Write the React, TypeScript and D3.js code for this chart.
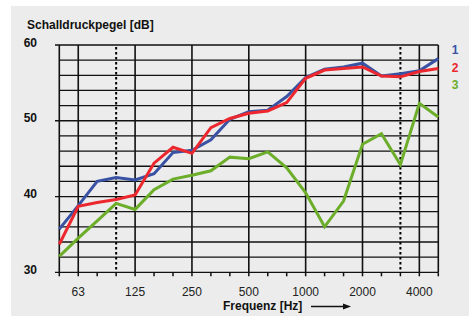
import React from 'react';
import * as d3 from 'd3';

// third-octave band centre frequencies (Hz)
const freqs = ['50', '63', '80', '100', '125', '160', '200', '250', '315', '400', '500',
  '630', '800', '1000', '1250', '1600', '2000', '2500', '3150', '4000', '5000'];
const octaveLabels = ['63', '125', '250', '500', '1000', '2000', '4000'];
const dottedFreqs = ['100', '3150'];
const yLabels = [30, 40, 50, 60];

const series1 = [35.7, 38.8, 42.0, 42.5, 42.2, 43.0, 45.8, 46.1, 47.5, 50.2, 51.2,
  51.4, 53.2, 55.7, 56.8, 57.1, 57.6, 55.9, 56.2, 56.6, 58.2];
const series2 = [33.7, 38.7, 39.2, 39.6, 40.2, 44.4, 46.5, 45.7, 49.1, 50.3, 51.0,
  51.3, 52.4, 55.6, 56.7, 56.9, 57.1, 55.9, 55.8, 56.5, 56.9];
const series3 = [32.1, 34.5, 36.8, 39.1, 38.3, 40.9, 42.3, 42.8, 43.4, 45.2, 45.0,
  45.9, 43.8, 40.5, 36.0, 39.4, 46.9, 48.3, 44.2, 52.3, 50.5];

const seriesNames = ['1', '2', '3'];
const colors = ['#3a52a3', '#ec272e', '#6cad2a'];

const W = 469;
const H = 316;
const FONT = '"Liberation Sans", Arial, sans-serif';

export default function App() {
  const left = 59.3;
  const right = 438.3;
  const top = 45;
  const bottom = 272.3;

  const x = d3.scalePoint<string>().domain(freqs).range([left, right]);
  const y = d3.scaleLinear().domain([30, 60]).range([bottom, top]);

  const line = d3.line<number>()
    .x((_, i) => x(freqs[i])!)
    .y(d => y(d));

  const hLines = d3.range(30, 61, 2);
  const all = [series3, series1, series2];
  const allColors = [colors[2], colors[0], colors[1]];

  return (
    <svg width={W} height={H} style={{ position: 'absolute', left: 0, top: 0, display: 'block' }}
      fontFamily={FONT}>
      <rect x={0} y={0} width={W} height={H} fill="#ffffff" />
      <rect x={11} y={6} width={W - 11} height={H - 6} fill="#ebeceb" />

      {/* horizontal grid */}
      {hLines.map(v => (
        <line key={'h' + v} x1={v % 10 === 0 ? 55 : left} x2={right} y1={y(v)} y2={y(v)}
          stroke="#111" strokeWidth={1.3} />
      ))}

      {/* bottom ticks */}
      {freqs.map(f => (
        <line key={'t' + f} x1={x(f)} x2={x(f)} y1={bottom} y2={bottom + 4}
          stroke="#111" strokeWidth={1.5} />
      ))}

      {/* vertical grid */}
      {['50', ...octaveLabels, '5000'].map(f => (
        <line key={'v' + f} x1={x(f)} x2={x(f)} y1={top} y2={bottom}
          stroke="#111" strokeWidth={1.6} />
      ))}
      {dottedFreqs.map(f => (
        <line key={'d' + f} x1={x(f)} x2={x(f)} y1={top + 2} y2={bottom}
          stroke="#000" strokeWidth={2} strokeDasharray="2.5,2.5" />
      ))}

      {/* series */}
      {all.map((s, i) => (
        <path key={'s' + i} d={line(s)!} fill="none" stroke={allColors[i]} strokeWidth={3}
          strokeLinejoin="miter" />
      ))}

      {/* y axis labels */}
      <text x={27} y={29} fontSize={12} fontWeight="bold" fill="#111">Schalldruckpegel [dB]</text>
      {yLabels.map(v => (
        <text key={'yl' + v} x={37} y={y(v) - 1.5} fontSize={12} fontWeight="bold" fill="#111"
          textAnchor="end" dominantBaseline="middle">{v}</text>
      ))}

      {/* x axis labels */}
      {octaveLabels.map(f => (
        <text key={'xl' + f} x={x(f)} y={296} fontSize={12} fill="#222" textAnchor="middle">{f}</text>
      ))}
      <text x={223} y={310} fontSize={12} fontWeight="bold" fill="#111">Frequenz [Hz]</text>
      <line x1={311} x2={344} y1={306.5} y2={306.5} stroke="#111" strokeWidth={1.3} />
      <path d="M343,303.5 L351,306.5 L343,309.5 Z" fill="#111" />

      {/* legend */}
      {seriesNames.map((n, i) => (
        <text key={'lg' + n} x={455} y={51 + i * 17.5} fontSize={12} fontWeight="bold"
          fill={colors[i]} textAnchor="middle" dominantBaseline="middle">{n}</text>
      ))}
    </svg>
  );
}
